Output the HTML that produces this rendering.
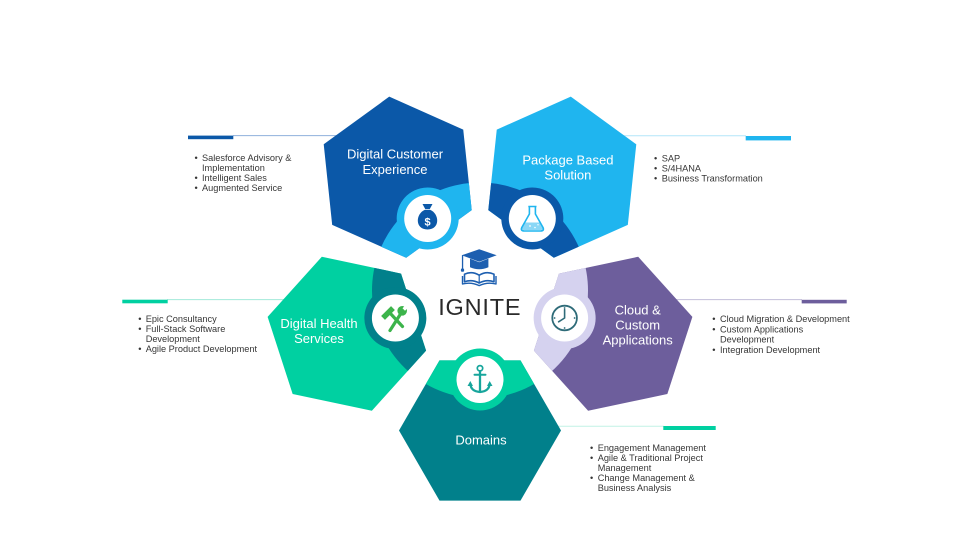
<!DOCTYPE html>
<html>
<head>
<meta charset="utf-8">
<style>
  html,body{margin:0;padding:0;background:#ffffff;}
  svg{display:block;}
  .lbl{font-family:"Liberation Sans",Arial,sans-serif;font-size:13px;fill:#ffffff;text-anchor:middle;}
  .bl{font-family:"Liberation Sans",Arial,sans-serif;font-size:9.2px;fill:#363636;}
</style>
</head>
<body>
<svg width="959" height="559" viewBox="0 0 959 559" xmlns="http://www.w3.org/2000/svg">
  <defs>
    <clipPath id="hc">
      <polygon points="561,430.5 520.5,500.65 439.5,500.65 399,430.5 439.5,360.35 520.5,360.35"/>
    </clipPath>
  </defs>

  <!-- connector lines (behind hexagons) -->
  <!-- top-left -->
  <line x1="233" y1="135.6" x2="345" y2="135.6" stroke="#8fb0dc" stroke-width="1"/>
  <rect x="188" y="135.6" width="45.3" height="3.6" fill="#0b58a8"/>
  <!-- top-right -->
  <line x1="600" y1="135.7" x2="746" y2="135.7" stroke="#b3e5f9" stroke-width="1"/>
  <rect x="745.7" y="136" width="45.3" height="4.4" fill="#1fb5ef"/>
  <!-- right purple -->
  <line x1="660" y1="299.6" x2="802" y2="299.6" stroke="#c3bed9" stroke-width="1"/>
  <rect x="801.7" y="299.8" width="45" height="3.6" fill="#6d5e9c"/>
  <!-- left green -->
  <line x1="167" y1="299.6" x2="300" y2="299.6" stroke="#a3eada" stroke-width="1"/>
  <rect x="122.3" y="299.7" width="45.4" height="3.6" fill="#00d0a1"/>
  <!-- bottom -->
  <line x1="530" y1="426.2" x2="664" y2="426.2" stroke="#c2f2e6" stroke-width="1"/>
  <rect x="663.3" y="426" width="52.4" height="4" fill="#00d0a1"/>

  <!-- bottom hex (Domains) -->
  <g>
    <polygon points="561,430.5 520.5,500.65 439.5,500.65 399,430.5 439.5,360.35 520.5,360.35" fill="#01808b"/>
    <circle cx="480" cy="290.5" r="108" fill="#00d0a1" clip-path="url(#hc)"/>
    <circle cx="480" cy="379.5" r="31" fill="#00d0a1"/>
  </g>
  <!-- right purple -->
  <g transform="rotate(-72 480 290.5)">
    <polygon points="561,430.5 520.5,500.65 439.5,500.65 399,430.5 439.5,360.35 520.5,360.35" fill="#6d5e9c"/>
    <circle cx="480" cy="290.5" r="108" fill="#d5d2ef" clip-path="url(#hc)"/>
    <circle cx="480" cy="379.5" r="31" fill="#d5d2ef"/>
  </g>
  <!-- top right -->
  <g transform="rotate(-144 480 290.5)">
    <polygon points="561,430.5 520.5,500.65 439.5,500.65 399,430.5 439.5,360.35 520.5,360.35" fill="#1fb5ef"/>
    <circle cx="480" cy="290.5" r="108" fill="#0b58a8" clip-path="url(#hc)"/>
    <circle cx="480" cy="379.5" r="31" fill="#0b58a8"/>
  </g>
  <!-- top left -->
  <g transform="rotate(144 480 290.5)">
    <polygon points="561,430.5 520.5,500.65 439.5,500.65 399,430.5 439.5,360.35 520.5,360.35" fill="#0b58a8"/>
    <circle cx="480" cy="290.5" r="108" fill="#1fb5ef" clip-path="url(#hc)"/>
    <circle cx="480" cy="379.5" r="31" fill="#1fb5ef"/>
  </g>
  <!-- left green -->
  <g transform="rotate(72 480 290.5)">
    <polygon points="561,430.5 520.5,500.65 439.5,500.65 399,430.5 439.5,360.35 520.5,360.35" fill="#00d0a1"/>
    <circle cx="480" cy="290.5" r="108" fill="#01808b" clip-path="url(#hc)"/>
    <circle cx="480" cy="379.5" r="31" fill="#01808b"/>
  </g>

  <!-- white icon circles -->
  <circle cx="427.7" cy="218.5" r="23.5" fill="#ffffff"/>
  <circle cx="532.3" cy="218.5" r="23.5" fill="#ffffff"/>
  <circle cx="564.6" cy="318" r="23.5" fill="#ffffff"/>
  <circle cx="395.4" cy="318" r="23.5" fill="#ffffff"/>
  <circle cx="480" cy="379.5" r="23.5" fill="#ffffff"/>

  <!-- money bag -->
  <g fill="#0b58a8">
    <path d="M422.5,204 L432.5,204 L429.8,209 L425.2,209 Z"/>
    <path d="M425,209.8 C415.5,213.5 414.5,229.5 427.5,229.5 C440.5,229.5 439.5,213.5 430,209.8 Z"/>
  </g>
  <text x="427.6" y="225.5" font-family="Liberation Sans,Arial,sans-serif" font-size="11" font-weight="bold" fill="#ffffff" text-anchor="middle">$</text>

  <!-- flask -->
  <path d="M525,222.5 H539.6 L542.6,227.8 Q543.6,230 540.6,230 H524.2 Q521.2,230 522.2,227.8 Z" fill="#8ad7f6"/>
  <path d="M528.3,206.5 H536.5 M529.4,206.5 V214 L521.8,227.5 Q520.3,231 524.3,231 H540.5 Q544.5,231 543,227.5 L535.4,214 V206.5" fill="none" stroke="#1fb5ef" stroke-width="1.6" stroke-linejoin="round"/>
  <circle cx="530" cy="226" r="0.9" fill="#ffffff"/>
  <circle cx="535" cy="227.5" r="0.8" fill="#ffffff"/>
  <circle cx="538" cy="224.8" r="0.7" fill="#ffffff"/>

  <!-- clock -->
  <g stroke="#2e6b78" fill="none" stroke-linecap="round">
    <circle cx="564.6" cy="318" r="12.3" stroke-width="1.8"/>
    <path d="M564.6,318 V309.6 M564.6,318 L558.6,321.8" stroke-width="1.6"/>
  </g>
  <g fill="#2e6b78">
    <circle cx="564.6" cy="308" r="0.9"/>
    <circle cx="574.6" cy="318" r="0.9"/>
    <circle cx="564.6" cy="328" r="0.9"/>
    <circle cx="554.6" cy="318" r="0.9"/>
  </g>

  <!-- wrench & hammer -->
  <g stroke="#3cb44b" stroke-linecap="round" fill="none">
    <line x1="389.5" y1="312.5" x2="402.5" y2="326.5" stroke-width="3.2"/>
    <line x1="390" y1="330.5" x2="400.5" y2="314" stroke-width="3.2"/>
  </g>
  <polygon points="391.04,306.14 394.86,309.96 384.96,319.86 381.14,316.04" fill="#3cb44b"/>
  <circle cx="402.2" cy="310.8" r="4.8" fill="#3cb44b"/>
  <polygon points="402.5,308.2 405.7,305 408.2,307.5 405,310.7" fill="#ffffff"/>

  <!-- anchor -->
  <g stroke="#17a59c" fill="none" stroke-linecap="round">
    <circle cx="480" cy="368.3" r="2.7" stroke-width="1.7"/>
    <line x1="480" y1="371" x2="480" y2="391.5" stroke-width="2.3"/>
    <line x1="474.5" y1="374.8" x2="485.5" y2="374.8" stroke-width="2"/>
    <path d="M470.3,384 Q471,391.3 480,392 Q489,391.3 489.7,384" stroke-width="2.2"/>
  </g>
  <polygon points="467.5,386 470.3,381 473,386" fill="#17a59c"/>
  <polygon points="487,386 489.7,381 492.5,386" fill="#17a59c"/>

  <!-- graduation cap + book -->
  <g fill="#1d5fb0">
    <polygon points="461.7,255.3 479.2,249.2 496.7,255.3 479.2,261.8"/>
    <path d="M470,258.6 V267.2 Q479.2,271.2 488.4,267.2 V258.6 L479.2,262.2 Z"/>
    <rect x="461.9" y="255.5" width="1.3" height="14" />
    <rect x="460.9" y="268.5" width="3.2" height="3.2" rx="1"/>
  </g>
  <g fill="none" stroke="#1d5fb0" stroke-linejoin="round">
    <path d="M464.5,274.2 Q472,270.8 479.2,275.2 Q486.4,270.8 494,274.2 L494,281.8 Q486.4,279 479.2,283 Q472,279 464.5,281.8 Z" stroke-width="1.6"/>
    <path d="M462.5,276 V284 Q471,281.8 479.2,285.6 Q487.4,281.8 496,284 V276" stroke-width="1.4"/>
    <line x1="479.2" y1="275.2" x2="479.2" y2="283" stroke-width="1.2"/>
  </g>

  <!-- IGNITE -->
  <text x="479.8" y="315.2" font-family="Liberation Sans,Arial,sans-serif" font-size="23.5" letter-spacing="0.8" fill="#2a2a2a" text-anchor="middle">IGNITE</text>

  <!-- hex labels -->
  <text class="lbl" x="395" y="158.5">Digital Customer</text>
  <text class="lbl" x="395" y="173.8">Experience</text>

  <text class="lbl" x="567.9" y="164.5">Package Based</text>
  <text class="lbl" x="567.9" y="179.5">Solution</text>

  <text class="lbl" x="637.7" y="314.5">Cloud &amp;</text>
  <text class="lbl" x="637.7" y="329.5">Custom</text>
  <text class="lbl" x="637.7" y="344.5">Applications</text>

  <text class="lbl" x="319" y="327.8">Digital Health</text>
  <text class="lbl" x="319" y="342.8">Services</text>

  <text class="lbl" x="481" y="444.5">Domains</text>

  <!-- bullet lists -->
  <!-- top-left -->
  <g class="bl">
    <text class="bl" x="194.5" y="161">•</text><text class="bl" x="202" y="161">Salesforce Advisory &amp;</text>
    <text class="bl" x="202" y="171">Implementation</text>
    <text class="bl" x="194.5" y="181">•</text><text class="bl" x="202" y="181">Intelligent Sales</text>
    <text class="bl" x="194.5" y="191.2">•</text><text class="bl" x="202" y="191.2">Augmented Service</text>
  </g>
  <!-- top-right -->
  <g>
    <text class="bl" x="654" y="161.5">•</text><text class="bl" x="661.7" y="161.5">SAP</text>
    <text class="bl" x="654" y="171.5">•</text><text class="bl" x="661.7" y="171.5">S/4HANA</text>
    <text class="bl" x="654" y="181.5">•</text><text class="bl" x="661.7" y="181.5">Business Transformation</text>
  </g>
  <!-- right purple -->
  <g>
    <text class="bl" x="712.2" y="322.2">•</text><text class="bl" x="720" y="322.2">Cloud Migration &amp; Development</text>
    <text class="bl" x="712.2" y="332.5">•</text><text class="bl" x="720" y="332.5">Custom Applications</text>
    <text class="bl" x="720" y="342.5">Development</text>
    <text class="bl" x="712.2" y="352.8">•</text><text class="bl" x="720" y="352.8">Integration Development</text>
  </g>
  <!-- left green -->
  <g>
    <text class="bl" x="138.2" y="322">•</text><text class="bl" x="145.7" y="322">Epic Consultancy</text>
    <text class="bl" x="138.2" y="332.2">•</text><text class="bl" x="145.7" y="332.2">Full-Stack Software</text>
    <text class="bl" x="145.7" y="342">Development</text>
    <text class="bl" x="138.2" y="352.2">•</text><text class="bl" x="145.7" y="352.2">Agile Product Development</text>
  </g>
  <!-- bottom -->
  <g>
    <text class="bl" x="590" y="451">•</text><text class="bl" x="597.7" y="451">Engagement Management</text>
    <text class="bl" x="590" y="461">•</text><text class="bl" x="597.7" y="461">Agile &amp; Traditional Project</text>
    <text class="bl" x="597.7" y="471">Management</text>
    <text class="bl" x="590" y="481">•</text><text class="bl" x="597.7" y="481">Change Management &amp;</text>
    <text class="bl" x="597.7" y="491">Business Analysis</text>
  </g>
</svg>
</body>
</html>
